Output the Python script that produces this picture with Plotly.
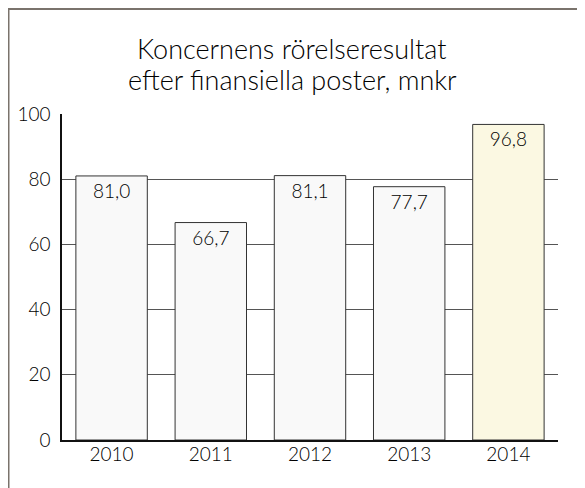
import plotly.graph_objects as go

years = ["2010", "2011", "2012", "2013", "2014"]
values = [81.0, 66.7, 81.1, 77.7, 96.8]
colors = ["#f9f9f9", "#f9f9f9", "#f9f9f9", "#f9f9f9", "#fbf8e2"]
labels = [f"{v:.1f}".replace(".", ",") for v in values]
title_lines = ["Koncernens rörelseresultat", "efter finansiella poster, mnkr"]

FONT = "Lato, 'Open Sans', sans-serif"
W = 300
FS = 19
TXT = "#000"

fig = go.Figure(go.Bar(
    x=years, y=values, text=labels,
    textposition="inside", insidetextanchor="end", textangle=0,
    insidetextfont=dict(size=FS, color=TXT, family=FONT, weight=W),
    marker=dict(color=colors, line=dict(color="#333", width=1)),
    cliponaxis=False,
))

L, R, T, B = 54, 35, 106, 56
PW = 585 - L - R
PH = 488 - T - B

def py(pix):
    return (488 - B - pix) / PH

def px(pix):
    return (pix - L) / PW

fig.add_shape(type="rect", xref="paper", yref="paper",
              x0=px(0.5), x1=px(600), y0=py(600), y1=py(1),
              line=dict(color="#7a736c", width=2), layer="below")

for i, line in enumerate(title_lines):
    fig.add_annotation(text=line, xref="paper", yref="paper",
                       x=px(284), y=py(40 + 32 * i), xanchor="center",
                       yanchor="middle", showarrow=False,
                       font=dict(size=27, family=FONT, color=TXT, weight=W))

fig.update_layout(
    width=585, height=488,
    margin=dict(l=L, r=R, t=T, b=B, autoexpand=False),
    paper_bgcolor="white", plot_bgcolor="white",
    bargap=0.28,
    showlegend=False,
    font=dict(family=FONT, size=FS, color=TXT, weight=W),
    uniformtext=dict(minsize=17, mode="show"),
)
fig.update_yaxes(range=[0, 100], tickvals=[0, 20, 40, 60, 80, 100],
                 showgrid=True, gridcolor="#555", gridwidth=1.3,
                 showline=True, linecolor="#111", linewidth=1.5,
                 zeroline=False, ticks="", ticklen=0, automargin=False,
                 ticklabelstandoff=6,
                 tickfont=dict(size=FS, family=FONT, color=TXT, weight=W))
fig.update_xaxes(showline=True, linecolor="#111", linewidth=1.5,
                 ticks="", automargin=False, ticklabelstandoff=-4,
                 tickfont=dict(size=FS, family=FONT, color=TXT, weight=W))

fig.write_html("out.html")
